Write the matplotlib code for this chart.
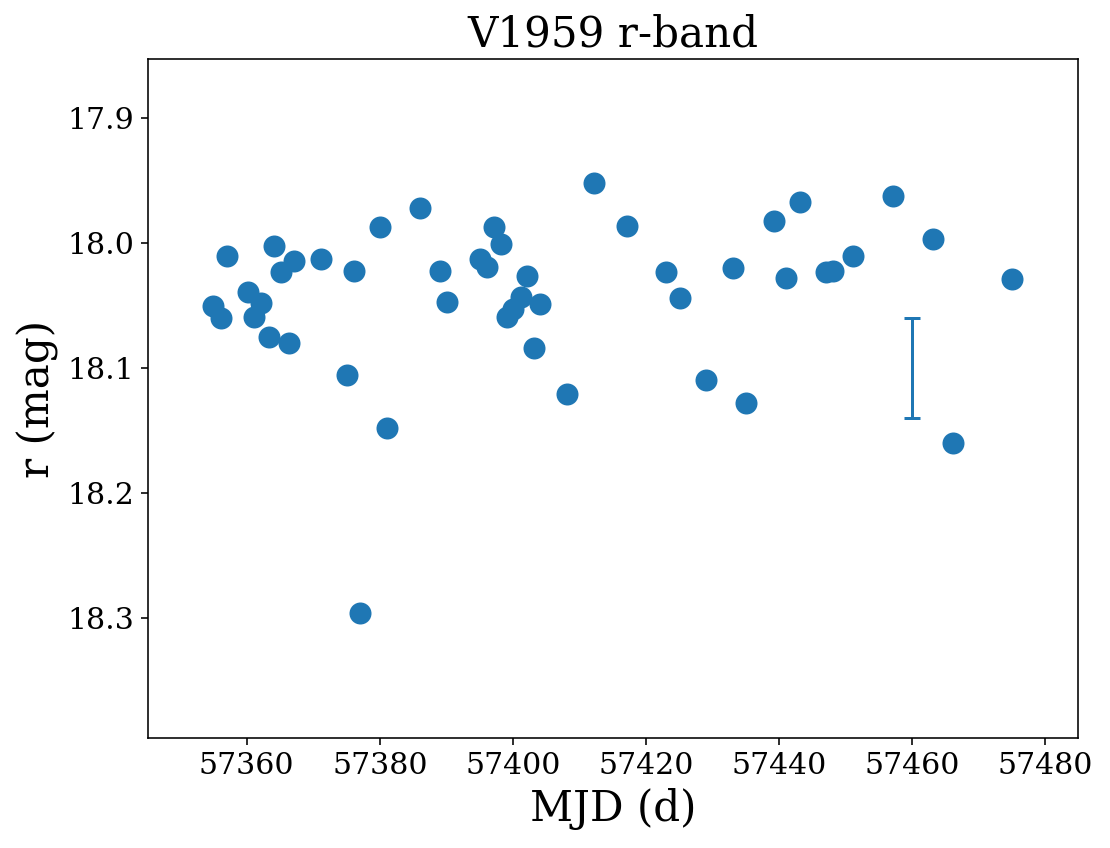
import matplotlib
matplotlib.use("Agg")
import matplotlib.pyplot as plt

plt.rcParams["font.family"] = "DejaVu Serif"

mjd = [57355.0, 57356.1, 57357.1, 57360.2, 57361.1, 57362.1, 57363.3, 57364.1,
       57365.2, 57366.3, 57367.1, 57371.2, 57375.0, 57376.1, 57377.1, 57380.1,
       57381.1, 57386.1, 57389.1, 57390.1, 57395.0, 57396.1, 57397.1, 57398.2,
       57399.1, 57400.1, 57401.2, 57402.2, 57403.2, 57404.1, 57408.1, 57412.2,
       57417.1, 57423.1, 57425.2, 57429.1, 57433.1, 57435.1, 57439.2, 57441.1,
       57443.2, 57447.1, 57448.2, 57451.1, 57457.2, 57463.1, 57466.1, 57475.1]
mag = [18.050, 18.060, 18.010, 18.039, 18.059, 18.048, 18.075, 18.002,
       18.023, 18.080, 18.014, 18.013, 18.106, 18.022, 18.296, 17.987,
       18.148, 17.972, 18.022, 18.047, 18.013, 18.019, 17.987, 18.001,
       18.059, 18.053, 18.043, 18.026, 18.084, 18.049, 18.121, 17.952,
       17.986, 18.023, 18.044, 18.110, 18.020, 18.128, 17.982, 18.028,
       17.967, 18.023, 18.022, 18.010, 17.962, 17.997, 18.160, 18.029]

# typical uncertainty marker
err_x = 57460
err_y = 18.10
err_size = 0.04

fig = plt.figure(figsize=(1110 / 144, 848 / 144), dpi=144)
ax = fig.add_axes([0.1336, 0.1294, 0.8378, 0.8011])

ax.plot(mjd, mag, "o", color="C0", ms=10)
ax.errorbar(err_x, err_y, yerr=err_size, color="C0", capsize=4, lw=1.5, capthick=1.5)

ax.set_xlim(57345.2, 57485.0)
ax.set_ylim(18.3966, 17.8525)
ax.set_yticks([17.9, 18.0, 18.1, 18.2, 18.3])
ax.tick_params(labelsize=15)

ax.set_xlabel("MJD (d)", fontsize=21)
ax.set_ylabel("r (mag)", fontsize=21)
ax.set_title("V1959 r-band", fontsize=21)

fig.savefig("out.png", dpi=144)
